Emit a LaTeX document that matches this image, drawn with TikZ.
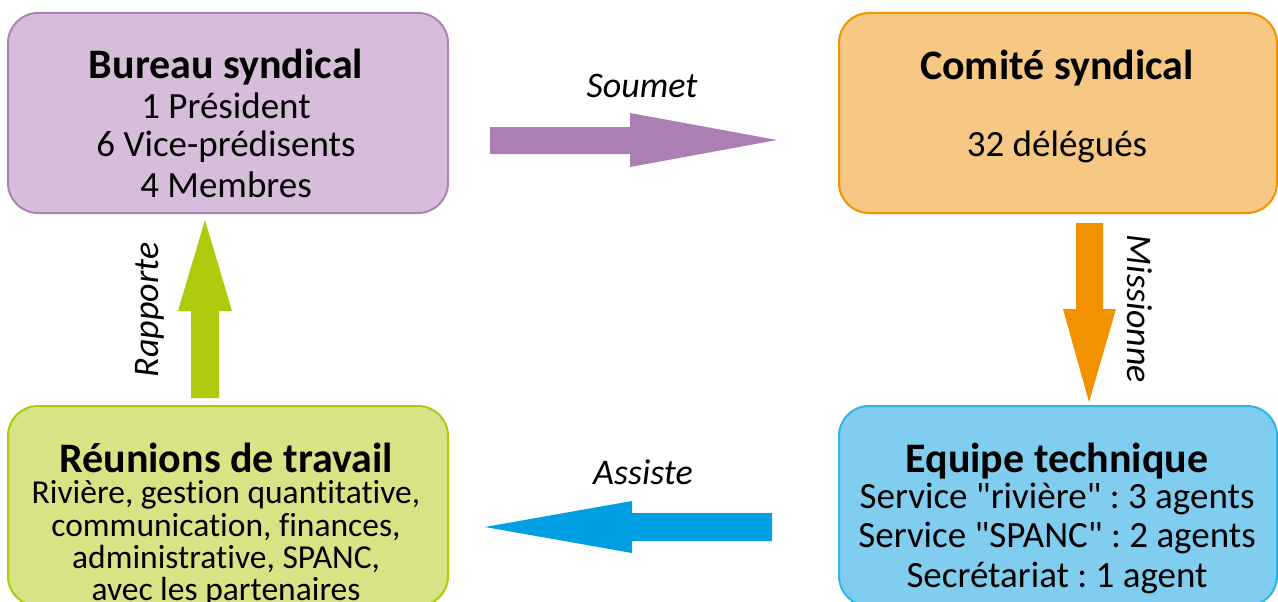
\documentclass[tikz,border=0pt]{standalone}
\usepackage{fontspec}
\setmainfont{Carlito}[Ligatures={TeXOff,CommonOff,ContextualOff}]
\frenchspacing
\definecolor{purpF}{HTML}{D6BDDA}
\definecolor{purpD}{HTML}{AE82B8}
\definecolor{purpA}{HTML}{AC7FB4}
\definecolor{oranF}{HTML}{F7C784}
\definecolor{oranD}{HTML}{F39200}
\definecolor{greenF}{HTML}{D9E385}
\definecolor{greenD}{HTML}{AFCA0B}
\definecolor{blueF}{HTML}{80CDEF}
\definecolor{blueD}{HTML}{2DB5E8}
\definecolor{blueA}{HTML}{009FE3}
\tikzset{
  box/.style={rounded corners=30pt, line width=2pt, minimum height=200pt, inner sep=0pt},
  ttl/.style={anchor=base, inner sep=0pt, font=\fontsize{42}{44}\selectfont\bfseries},
  txt/.style={anchor=base, inner sep=0pt, font=\fontsize{37}{40}\selectfont},
  txts/.style={anchor=base, inner sep=0pt, font=\fontsize{33.5}{33}\selectfont},
  lbl/.style={inner sep=0pt, font=\fontsize{36}{38}\selectfont\itshape},
}
\begin{document}
\begin{tikzpicture}[x=1pt,y=-1pt]
\useasboundingbox (0,0) rectangle (1278,602);
% boxes
\node[box, draw=purpD, fill=purpF, minimum width=440pt] (bureau) at (228,113) {};
\node[box, draw=oranD, fill=oranF, minimum width=438pt] (comite) at (1058,113) {};
\node[box, draw=greenD, fill=greenF, minimum width=440pt] (reunions) at (228,506) {};
\node[box, draw=blueD, fill=blueF, minimum width=438pt] (equipe) at (1058,506) {};
% Bureau text
\node[ttl] (b0) at (226,78) {Bureau syndical};
\node[txt] (b1) at (226,118) {1 Président};
\node[txt] (b2) at (226,157) {6 Vice-prédisents};
\node[txt] (b3) at (226,197) {4 Membres};
% Comite text
\node[ttl] (c0) at (1057,80) {Comité syndical};
\node[txt] (c1) at (1057,157) {32 délégués};
% Reunions text
\node[ttl] (r0) at (226,472) {Réunions de travail};
\node[txts] (r1) at (226,503) {Rivière, gestion quantitative,};
\node[txts] (r2) at (226,536) {communication, finances,};
\node[txts] (r3) at (226,568) {administrative, SPANC,};
\node[txts] (r4) at (226,600) {avec les partenaires};
% Equipe text
\node[ttl] (e0) at (1057,472) {Equipe technique};
\node[txt] (e1) at (1057,508) {Service "rivière" : 3 agents};
\node[txt] (e2) at (1057,547) {Service "SPANC" : 2 agents};
\node[txt] (e3) at (1057,587) {Secrétariat : 1 agent};
% arrows
\fill[purpA] (490,127) -- (630,127) -- (630,113) -- (777,140) -- (630,167) -- (630,154) -- (490,154) -- cycle;
\fill[oranD] (1076,223) -- (1103,223) -- (1103,309) -- (1116,309) -- (1089,402) -- (1063,309) -- (1076,309) -- cycle;
\fill[greenD] (191,398) -- (219,398) -- (219,311) -- (232,311) -- (205,220) -- (178,311) -- (191,311) -- cycle;
\fill[blueA] (772,513) -- (632,513) -- (632,501) -- (485,527) -- (632,553) -- (632,541) -- (772,541) -- cycle;
% labels
\node[lbl, anchor=base] (ls) at (642,98) {Soumet};
\node[lbl, anchor=base] (la) at (643,484) {Assiste};
\node[lbl, rotate=-90] (lm) at (1140,309) {Missionne};
\node[lbl, rotate=90] (lr) at (150,310) {Rapporte};
\end{tikzpicture}
\end{document}
